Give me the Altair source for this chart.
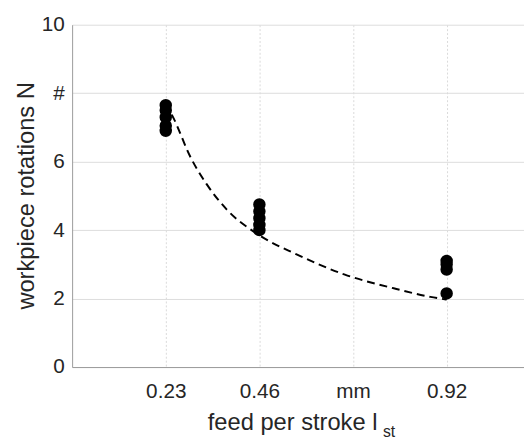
import altair as alt
import pandas as pd

# measured points
feed_a = [0.23, 0.23, 0.23, 0.23, 0.23]
rot_a = [6.9, 7.05, 7.3, 7.5, 7.65]
feed_b = [0.46, 0.46, 0.46, 0.46, 0.46]
rot_b = [4.0, 4.15, 4.35, 4.55, 4.75]
feed_c = [0.92, 0.92, 0.92, 0.92]
rot_c = [2.15, 2.85, 3.0, 3.1]

# dashed fit curve
fit_x = [0.23, 0.25, 0.29, 0.33, 0.38, 0.46, 0.55, 0.67, 0.79, 0.88, 0.92]
fit_y = [7.7, 7.25, 6.15, 5.35, 4.6, 3.85, 3.3, 2.7, 2.3, 2.05, 1.97]

x_ticks = [0.23, 0.46, 0.69, 0.92]
y_ticks = [0, 2, 4, 6, 8, 10]

pts = pd.DataFrame({"f": feed_a + feed_b + feed_c, "N": rot_a + rot_b + rot_c})
fit = pd.DataFrame({"f": fit_x, "N": fit_y})
sub = pd.DataFrame({"t": ["st"]})

FONT = "Liberation Sans"
TXT = "#262626"

x_enc = alt.X(
    "f:Q",
    scale=alt.Scale(domain=[0, 1.11], nice=False, zero=False),
    axis=alt.Axis(
        values=x_ticks,
        labelExpr="datum.value == 0.69 ? 'mm' : format(datum.value, '.2f')",
        title="feed per stroke l",
        titleX=137, titleY=63, titleAlign="left", titleBaseline="alphabetic",
        titleFontSize=24, titleFontWeight="normal", titleFont=FONT, titleColor=TXT,
        labelFontSize=21, labelFont=FONT, labelColor=TXT, labelPadding=14,
        ticks=False, domainColor="#9a9a9a", domainWidth=1,
        grid=True, gridColor="#d9d9d9", gridDash=[2, 2], gridWidth=1,
    ),
)
y_enc = alt.Y(
    "N:Q",
    scale=alt.Scale(domain=[0, 10], nice=False),
    axis=alt.Axis(
        values=y_ticks,
        labelExpr="datum.value == 8 ? '#' : datum.label",
        title="workpiece rotations N",
        titleX=-46, titleY=173, titleAngle=-90, titleAlign="center", titleBaseline="middle",
        titleFontSize=24, titleFontWeight="normal", titleFont=FONT, titleColor=TXT,
        labelFontSize=21, labelFont=FONT, labelColor=TXT, labelPadding=8,
        ticks=False, domainColor="#9a9a9a", domainWidth=1,
        grid=True, gridColor="#dcdcdc", gridWidth=1,
    ),
)

points = alt.Chart(pts).mark_circle(size=160, color="black", opacity=1).encode(x=x_enc, y=y_enc)
line = alt.Chart(fit).mark_line(color="black", strokeDash=[8, 5], strokeWidth=2,
                                interpolate="monotone").encode(x="f:Q", y="N:Q")
subtxt = alt.Chart(sub).mark_text(font=FONT, fontSize=16, color=TXT, align="left",
                                  baseline="alphabetic").encode(
    x=alt.value(315), y=alt.value(418), text="t:N")

chart = (line + points + subtxt).properties(
    width=458, height=347,
    autosize=alt.AutoSizeParams(type="none"),
    padding={"left": 65, "top": 14, "right": 0, "bottom": 72},
).configure_view(stroke=None)

chart.save("out.html", embed_options={"renderer": "svg", "actions": False})
